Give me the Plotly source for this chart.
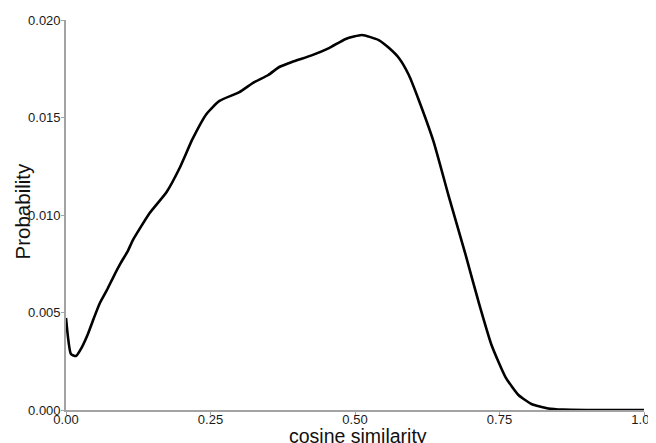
import plotly.graph_objects as go

cos_sim = [0.0, 0.0086, 0.0172, 0.0276, 0.0379, 0.0483, 0.0586, 0.0707, 0.0828, 0.0948,
           0.1069, 0.1155, 0.1448, 0.1741, 0.1966, 0.219, 0.2431, 0.2655, 0.3, 0.325,
           0.35, 0.369, 0.391, 0.426, 0.455, 0.484, 0.512, 0.541, 0.559, 0.5759, 0.5931,
           0.6103, 0.6362, 0.6621, 0.6914, 0.7138, 0.7362, 0.7603, 0.7828, 0.8052, 0.8345,
           0.86, 0.9, 0.95, 1.0]
probability = [0.00472, 0.00287, 0.00277, 0.00323, 0.0039, 0.00472, 0.00549, 0.00615, 0.00687,
               0.00754, 0.00815, 0.0087, 0.0101, 0.01118, 0.01241, 0.0139, 0.01518, 0.01585,
               0.0163, 0.0168, 0.01718, 0.01759, 0.01785, 0.0182, 0.01856, 0.01903, 0.01923,
               0.01897, 0.01856, 0.01805, 0.01718, 0.0159, 0.01374, 0.01097, 0.00795, 0.00554,
               0.00333, 0.00169, 0.00077, 0.00031, 0.00008, 0.00002, 0.000003, 0.0, 0.0]

x_ticks = [0, 0.25, 0.5, 0.75, 1.0]
x_ticklabels = ["0.00", "0.25", "0.50", "0.75", "1.00"]
y_ticks = [0, 0.005, 0.01, 0.015, 0.02]
y_ticklabels = ["0.000", "0.005", "0.010", "0.015", "0.020"]

FONT = "Liberation Sans, Arial, sans-serif"

fig = go.Figure()
fig.add_trace(go.Scatter(x=cos_sim, y=probability, mode="lines",
                         line=dict(color="black", width=2.6, shape="spline", smoothing=0.5),
                         showlegend=False, hoverinfo="skip"))

axis_common = dict(showgrid=False, zeroline=False, showline=True, linecolor="#a3a3a3",
                   linewidth=1.6, ticks="outside", ticklen=3, tickcolor="#a3a3a3", tickwidth=1,
                   ticklabeloverflow="allow", automargin=False,
                   tickfont=dict(family=FONT, size=13, color="#1a1a1a"))

fig.update_layout(
    width=648, height=435,
    margin=dict(l=58, r=12, t=12, b=33),
    paper_bgcolor="white", plot_bgcolor="white",
    xaxis=dict(range=[0, 1.0], tickvals=x_ticks, ticktext=x_ticklabels,
               ticklabelstandoff=-6, **axis_common),
    yaxis=dict(range=[0, 0.02], tickvals=y_ticks, ticktext=y_ticklabels,
               ticklabelstandoff=-2, **axis_common),
    annotations=[
        dict(text="cosine similarity", xref="paper", yref="paper", x=0.5045, y=-0.0671,
             xanchor="center", yanchor="middle", showarrow=False,
             font=dict(family=FONT, size=19.5, color="#111")),
        dict(text="Probability", xref="paper", yref="paper", x=-0.0745, y=0.509,
             xanchor="center", yanchor="middle", textangle=-90, showarrow=False,
             font=dict(family=FONT, size=20.5, color="#111")),
    ],
)

fig.write_html("out.html")
